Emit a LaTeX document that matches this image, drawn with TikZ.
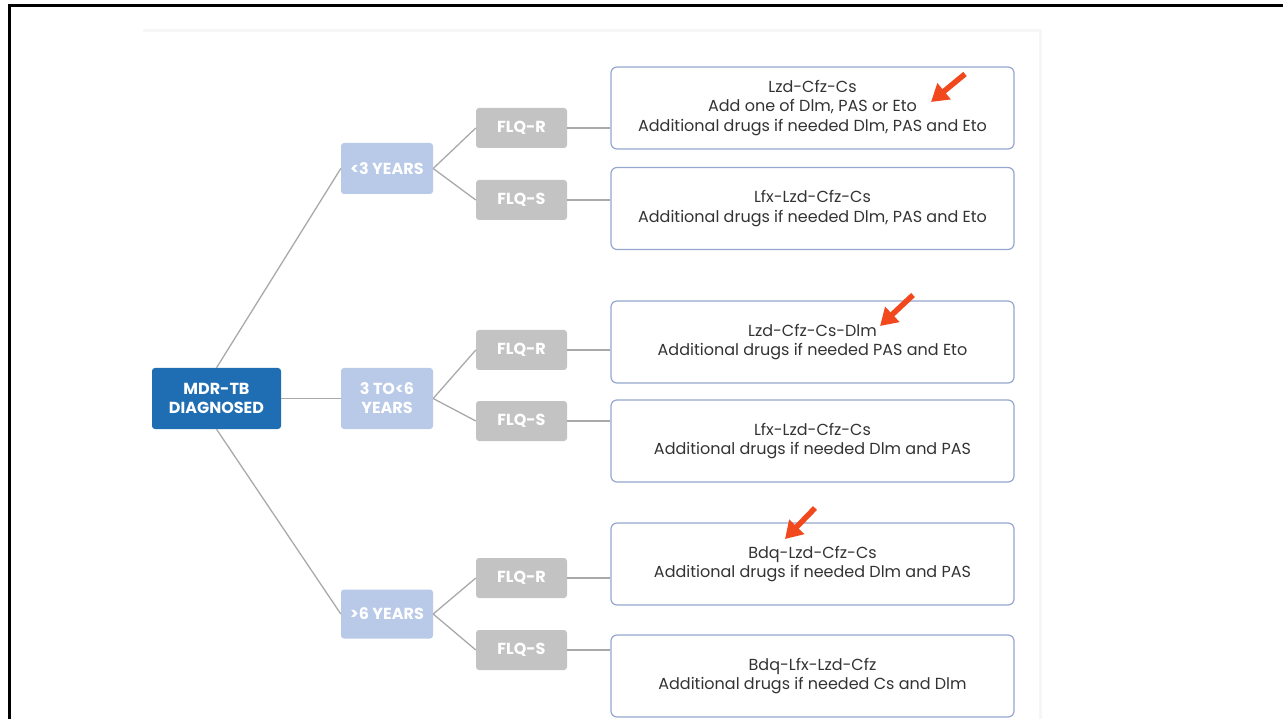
\documentclass[tikz,border=0pt]{standalone}
\usepackage{fontspec}
\setmainfont{Poppins}
\usetikzlibrary{arrows.meta}

\definecolor{mdrblue}{HTML}{1F6DB3}
\definecolor{ageblue}{HTML}{B9C9E8}
\definecolor{flqgray}{HTML}{C3C3C3}
\definecolor{boxedge}{HTML}{95A6CF}
\definecolor{linegray}{HTML}{A9A9A9}
\definecolor{hintred}{HTML}{F2481D}
\definecolor{panelgray}{HTML}{F6F6F6}

\tikzset{
  mdrbox/.style={fill=mdrblue, rounded corners=3pt, text=white, align=center,
    font=\bfseries\fontsize{16}{19}\selectfont, minimum width=129pt, minimum height=61pt, inner sep=0pt},
  agebox/.style={fill=ageblue, rounded corners=3pt, text=white, align=center,
    font=\bfseries\fontsize{16}{19}\selectfont, minimum width=92pt, minimum height=51pt, inner sep=0pt},
  flqbox/.style={fill=flqgray, rounded corners=3pt, text=white,
    font=\bfseries\fontsize{16}{19}\selectfont, minimum width=91pt, minimum height=40pt, inner sep=0pt},
  regbox/.style={draw=boxedge, line width=1.2pt, rounded corners=6pt, fill=white, align=center,
    text=black!80, font=\fontsize{16}{19.5}\selectfont, minimum width=403pt, minimum height=82pt, inner sep=0pt},
  link/.style={draw=linegray, line width=1.3pt},
  hint/.style={draw=hintred, line width=5.5pt, -{Triangle[width=20pt,length=17pt]}}
}

\begin{document}
\begin{tikzpicture}[x=1pt,y=-1pt]
\useasboundingbox (0,0) rectangle (1283,719);
\draw[panelgray, line width=3pt] (143,31) -- (1040,31) -- (1040,719);
\draw[line width=3pt] (9.5,719) -- (9.5,5.5) -- (1283,5.5);

\node[mdrbox] (mdr) at (216.5,398.5) {MDR-TB\\DIAGNOSED};
\node[agebox] (young) at (387,168.5) {<3 YEARS};
\node[agebox, minimum height=61pt] (middle) at (387,398.5) {3 TO<6\\YEARS};
\node[agebox, minimum height=49pt] (old) at (387,614) {>6 YEARS};

\node[flqbox] (rYoung) at (521.5,128) {FLQ-R};
\node[flqbox] (sYoung) at (521.5,200) {FLQ-S};
\node[flqbox] (rMiddle) at (521.5,350) {FLQ-R};
\node[flqbox] (sMiddle) at (521.5,421) {FLQ-S};
\node[flqbox] (rOld) at (521.5,578) {FLQ-R};
\node[flqbox] (sOld) at (521.5,650) {FLQ-S};

\node[regbox] (regA) at (812.5,108) {Lzd-Cfz-Cs\\Add one of Dlm, PAS or Eto\\Additional drugs if needed Dlm, PAS and Eto};
\node[regbox] (regB) at (812.5,208.5) {Lfx-Lzd-Cfz-Cs\\Additional drugs if needed Dlm, PAS and Eto};
\node[regbox] (regC) at (812.5,342) {Lzd-Cfz-Cs-Dlm\\Additional drugs if needed PAS and Eto};
\node[regbox] (regD) at (812.5,441) {Lfx-Lzd-Cfz-Cs\\Additional drugs if needed Dlm and PAS};
\node[regbox] (regE) at (812.5,564) {Bdq-Lzd-Cfz-Cs\\Additional drugs if needed Dlm and PAS};
\node[regbox] (regF) at (812.5,676) {Bdq-Lfx-Lzd-Cfz\\Additional drugs if needed Cs and Dlm};

\draw[link] (mdr.north) -- (young.west);
\draw[link] (mdr) -- (middle);
\draw[link] (mdr.south) -- (old.west);

\draw[link] (young.east) -- (rYoung.west);
\draw[link] (young.east) -- (sYoung.west);
\draw[link] (middle.east) -- (rMiddle.west);
\draw[link] (middle.east) -- (sMiddle.west);
\draw[link] (old.east) -- (rOld.west);
\draw[link] (old.east) -- (sOld.west);

\draw[link] (rYoung) -- (rYoung -| regA.west);
\draw[link] (sYoung) -- (sYoung -| regB.west);
\draw[link] (rMiddle) -- (rMiddle -| regC.west);
\draw[link] (sMiddle) -- (sMiddle -| regD.west);
\draw[link] (rOld) -- (rOld -| regE.west);
\draw[link] (sOld) -- (sOld -| regF.west);

% red pointers
\coordinate (hintA) at (965,74);
\coordinate (tipA) at (931,102);
\coordinate (hintC) at (913,295);
\coordinate (tipC) at (880,326);
\coordinate (hintE) at (815,508);
\coordinate (tipE) at (785,539);
\draw[hint] (hintA) -- (tipA);
\draw[hint] (hintC) -- (tipC);
\draw[hint] (hintE) -- (tipE);
\end{tikzpicture}
\end{document}
